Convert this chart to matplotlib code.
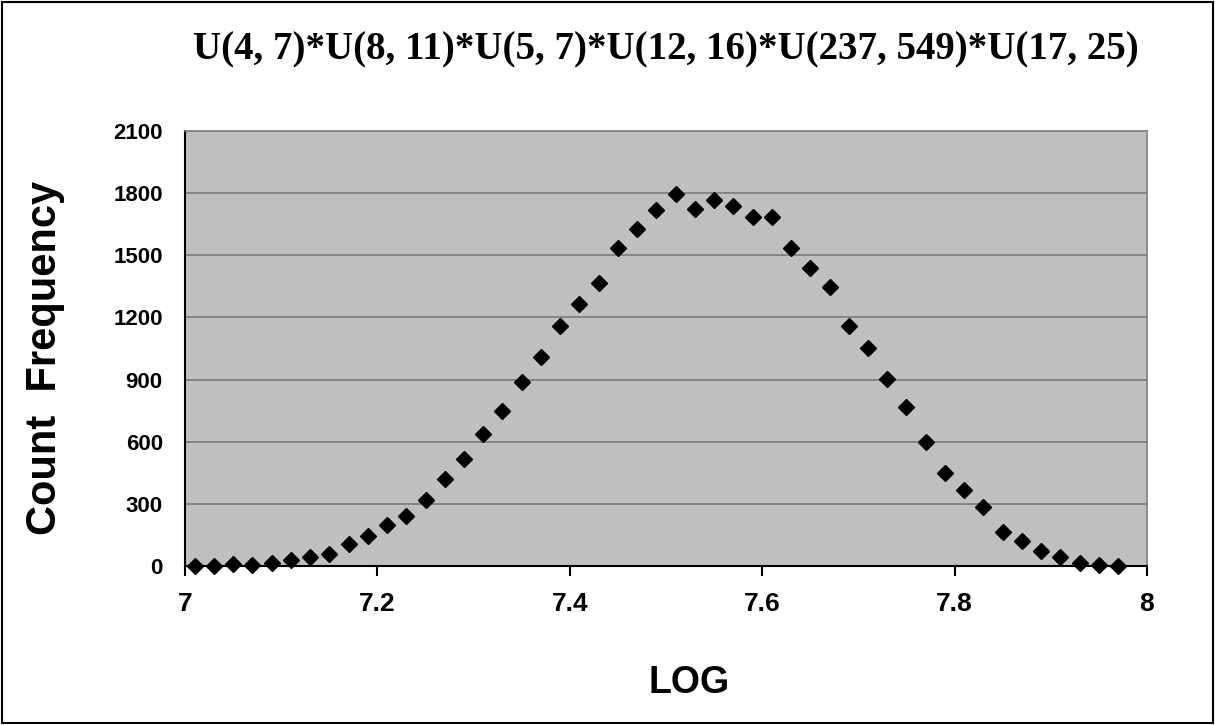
import matplotlib.pyplot as plt
from matplotlib.patches import Rectangle

log_values = [7.01, 7.03, 7.05, 7.07, 7.09, 7.11, 7.13, 7.15, 7.17, 7.19,
              7.21, 7.23, 7.25, 7.27, 7.29, 7.31, 7.33, 7.35, 7.37, 7.39,
              7.41, 7.43, 7.45, 7.47, 7.49, 7.51, 7.53, 7.55, 7.57, 7.59,
              7.61, 7.63, 7.65, 7.67, 7.69, 7.71, 7.73, 7.75, 7.77, 7.79,
              7.81, 7.83, 7.85, 7.87, 7.89, 7.91, 7.93, 7.95, 7.97]
counts = [0, 0, 8, 5, 15, 30, 43, 56, 108, 143,
          196, 240, 321, 419, 516, 636, 747, 890, 1011, 1160,
          1266, 1368, 1533, 1626, 1718, 1795, 1723, 1768, 1736, 1686,
          1686, 1533, 1437, 1345, 1160, 1051, 903, 767, 598, 448,
          365, 284, 164, 119, 72, 43, 14, 3, 2]
x_ticks = [7, 7.2, 7.4, 7.6, 7.8, 8]
x_tick_labels = ['7', '7.2', '7.4', '7.6', '7.8', '8']
y_ticks = [0, 300, 600, 900, 1200, 1500, 1800, 2100]
title = 'U(4, 7)*U(8, 11)*U(5, 7)*U(12, 16)*U(237, 549)*U(17, 25)'

plt.rcParams['font.family'] = ['Liberation Sans', 'DejaVu Sans']

fig = plt.figure(figsize=(12.15, 7.25), dpi=100)
ax = fig.add_axes([0.1523, 0.2193, 0.7917, 0.6000])
ax.set_facecolor('#c0c0c0')

ax.plot(log_values, counts, 'D', color='black', markersize=8, clip_on=False, zorder=3)

ax.set_xlim(7, 8)
ax.set_ylim(0, 2100)
ax.set_xticks(x_ticks)
ax.set_xticklabels(x_tick_labels)
ax.set_yticks(y_ticks)
ax.grid(axis='y', color='#808080', linewidth=1.3)
ax.set_axisbelow(True)

for s in ['top', 'right']:
    ax.spines[s].set_color('#808080')
    ax.spines[s].set_linewidth(1.2)
for s in ['left', 'bottom']:
    ax.spines[s].set_color('black')
    ax.spines[s].set_linewidth(1.5)

ax.tick_params(axis='x', length=7, width=1.5, direction='out', pad=12,
               labelsize=19)
ax.tick_params(axis='y', length=0, pad=16, labelsize=16)
for lbl in ax.get_xticklabels() + ax.get_yticklabels():
    lbl.set_fontweight('bold')

fig.text(0.548, 0.931, title, ha='center', va='center', fontsize=28,
         fontweight='bold', family=['Liberation Serif', 'DejaVu Serif'])
fig.text(0.037, 0.506, 'Count  Frequency', rotation=90, ha='center',
         va='center', fontsize=30, fontweight='bold')
fig.text(0.567, 0.058, 'LOG', ha='center', va='center', fontsize=27,
         fontweight='bold')

fig.patches.append(Rectangle((0.002, 0.003), 0.996, 0.994, transform=fig.transFigure,
                             fill=False, edgecolor='black', linewidth=1.5))

fig.savefig('out.png', dpi=100)
